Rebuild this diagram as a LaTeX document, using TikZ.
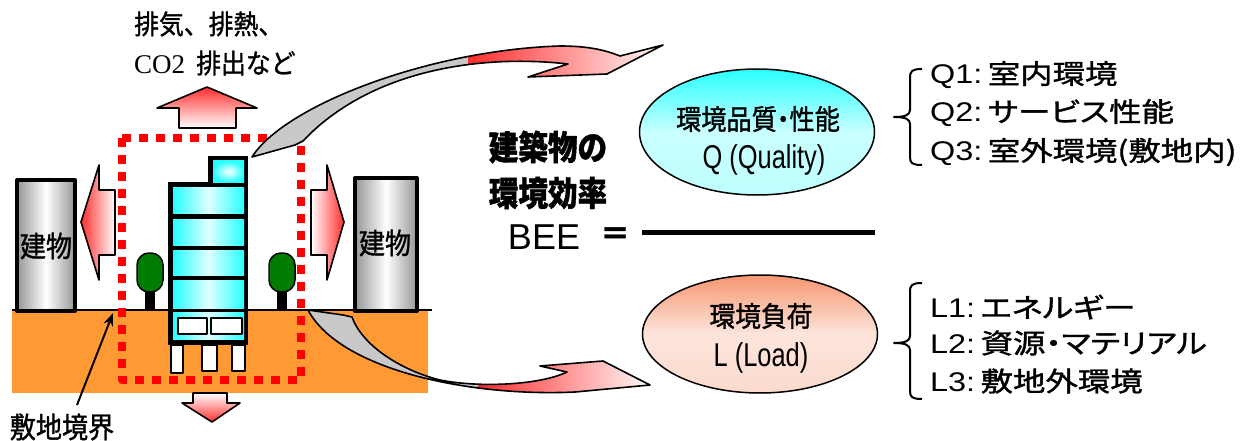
\documentclass[tikz,border=0pt]{standalone}
\usepackage{fontspec}
\setmainfont{Liberation Sans}
\newfontfamily\jp[RawFeature={embolden=1.2}]{Noto Sans CJK JP}
\newfontfamily\jpp[RawFeature={+palt;embolden=1.2}]{Noto Sans CJK JP}
\newfontfamily\serifrm{Liberation Serif}
\usetikzlibrary{arrows.meta,shapes.geometric}
\newcommand{\fsz}[1]{\fontsize{#1}{#1}\selectfont}
\newcommand{\hsc}[2]{\scalebox{#1}[1]{#2}}

\definecolor{soil}{RGB}{255,153,51}
\definecolor{arrred}{RGB}{255,45,45}
\definecolor{cyanfill}{RGB}{40,255,255}
\definecolor{treegreen}{RGB}{0,125,0}
\definecolor{wingray}{RGB}{200,200,200}
\definecolor{bldgray}{RGB}{150,150,150}
\definecolor{loadfill}{RGB}{246,150,112}
\definecolor{boundred}{RGB}{255,0,0}

\tikzset{
  outline/.style={draw=black, line width=1.6},
  redarrow/.style={outline},
  panel/.style={left color=cyanfill, right color=cyanfill, middle color=cyanfill!15},
  neighbour/.style={draw=black, line width=4, left color=bldgray, right color=bldgray, middle color=white},
  listtext/.style={anchor=west, inner sep=0pt},
  plain/.style={inner sep=0pt},
}

% curved flows from the building to Q and L
\def\flowup{(252,157) .. controls (285,105) and (430,50) .. (560,46)
  .. controls (588,46) and (605,50) .. (620,56) -- (663,45) -- (607,74)
  -- (528,77) -- (568,64) .. controls (480,54) and (370,70) .. (303,141)
  -- (295,145) -- cycle}
\def\flowdown{(308,310) -- (343,315) -- (352,317)
  .. controls (362,345) and (400,370) .. (440,380)
  .. controls (480,388) and (540,385) .. (567,372) -- (540,366) -- (603,361)
  -- (650,385) -- (575,392) .. controls (470,397) and (340,370) .. cycle}

\begin{document}
\begin{tikzpicture}[x=1pt,y=-1pt,line join=round]
\useasboundingbox (0,0) rectangle (1245,441);

% ground
\fill[soil] (12,310) rectangle (428,393);
\draw[line width=2] (12,310) -- (432,310);

% neighbouring buildings
\draw[neighbour] (17,180) rectangle (75,311);
\draw[neighbour] (355,178) rectangle (417,311);
\node[plain] (nbL) at (46,246) {\jp\fsz{29}\hsc{0.9}{建物}};
\node[plain] (nbR) at (385,243) {\jp\fsz{29}\hsc{0.9}{建物}};

% sideways emissions
\draw[redarrow, left color=arrred, right color=white]
  (81,222) -- (99,165) -- (99,190) -- (115,190) -- (115,255) -- (99,255) -- (99,280) -- cycle;
\draw[redarrow, left color=white, right color=arrred]
  (311,190) -- (327,190) -- (327,165) -- (344,222) -- (327,280) -- (327,255) -- (311,255) -- cycle;

% trees
\foreach \tx in {137,269}{
  \fill (\tx+8,288) rectangle (\tx+18,310);
  \draw[fill=treegreen, line width=1.5, rounded corners=12] (\tx,253) rectangle (\tx+26,292);
}

% the building
\fill (208,156) rectangle (248,184);
\fill (168,182) rectangle (248,345);
\shade[inner color=white, outer color=cyanfill] (213,161) rectangle (244,182);
\shade[panel] (173,187) rectangle (244,213);
\shade[panel] (173,219) rectangle (244,245);
\shade[panel] (173,250) rectangle (244,275);
\shade[panel] (173,280) rectangle (244,308);
\shade[panel] (173,312) rectangle (244,339);
\draw[fill=white, line width=1.5] (178,318) rectangle (207,334);
\draw[fill=white, line width=1.5] (211,318) rectangle (242,334);
\draw[fill=white, line width=1.5] (171,345) rectangle (183,373);
\draw[fill=white, line width=1.5] (202,345) rectangle (217,371);
\draw[fill=white, line width=1.5] (232,345) rectangle (245,371);

% site boundary
\draw[boundred, line width=8.5, dash pattern=on 9pt off 8pt] (122,138) rectangle (301,380);

% upward and downward emissions
\draw[redarrow, top color=arrred, bottom color=white]
  (207,87) -- (257,108) -- (236,108) -- (236,128) -- (179,128) -- (179,108) -- (157,108) -- cycle;
\draw[redarrow, top color=white, bottom color=arrred]
  (193,393) -- (227,393) -- (227,403) -- (240,403) -- (212,422) -- (182,403) -- (193,403) -- cycle;

% boundary label
\node[plain] (bnd) at (62,427) {\jp\fsz{29}\hsc{0.9}{敷地境界}};
\coordinate (bndtail) at (77,405);
\coordinate (bndtip) at (113,313);
\draw[line width=2, -{Stealth[length=13pt,width=10pt]}] (bndtail) -- (bndtip);

% emissions label
\node[plain, anchor=west] (emit1) at (134,24) {\jp\fsz{27}\hsc{0.92}{排気、排熱、}};
\node[plain, anchor=west] (emit2) at (134,63) {{\serifrm\fsz{27}CO2}\hspace{11pt}{\jp\fsz{27}\hsc{0.92}{排出など}}};

% curved flows
\fill[wingray] \flowup;
\begin{scope}
  \clip \flowup;
  \fill[left color=arrred, right color=white] (468,30) rectangle (668,90);
\end{scope}
\draw[outline] \flowup;

\fill[wingray] \flowdown;
\begin{scope}
  \clip \flowdown;
  \fill[left color=arrred, right color=white] (478,350) rectangle (655,400);
\end{scope}
\draw[outline] \flowdown;

% BEE formula
\node[plain] (bee1) at (548,147) {\jp\bfseries\fsz{34}\hsc{0.87}{建築物の}};
\node[plain] (bee2) at (548,193) {\jp\bfseries\fsz{34}\hsc{0.87}{環境効率}};
\node[plain] (bee) at (544,237) {\fsz{36}BEE};
\node[plain] (eq) at (615,236) {\jp\bfseries\fsz{30}＝};
\coordinate (barL) at (642,232);
\coordinate (barR) at (875,232);
\draw[line width=5] (barL) -- (barR);

% numerator and denominator
\node[ellipse, draw, line width=1.5, minimum width=235, minimum height=126,
      top color=cyanfill, bottom color=cyanfill!30, middle color=cyanfill!25] (qell) at (757,132) {};
\node[plain] (qt1) at (758,119) {\jpp\fsz{28}\hsc{0.9}{環境品質・性能}};
\node[plain] (qt2) at (764,160) {\fsz{33}\hsc{0.77}{Q (Quality)}};

\node[ellipse, draw, line width=1.5, minimum width=235, minimum height=118,
      top color=loadfill, bottom color=loadfill!35, middle color=loadfill!25] (lell) at (760,334) {};
\node[plain] (lt1) at (761,316) {\jp\fsz{28}\hsc{0.92}{環境負荷}};
\node[plain] (lt2) at (761,358) {\fsz{33}\hsc{0.77}{L (Load)}};

% braces
\draw[line width=2] (922,69) .. controls (912,69) and (910,71) .. (910,78) -- (910,110)
  .. controls (910,115) and (905,117) .. (894,117) .. controls (905,117) and (910,119) .. (910,124)
  -- (910,157) .. controls (910,163) and (912,165) .. (922,165);
\draw[line width=2] (922,283) .. controls (912,283) and (910,285) .. (910,292) -- (910,336)
  .. controls (910,341) and (905,343) .. (894,343) .. controls (905,343) and (910,345) .. (910,350)
  -- (910,391) .. controls (910,397) and (912,399) .. (922,399);

% breakdown lists
\node[listtext] (q1) at (930,75) {\fsz{27}\hsc{1.2}{Q1:\,\jpp 室内環境}};
\node[listtext] (q2) at (930,113) {\fsz{27}\hsc{1.2}{Q2:\,\jpp サービス性能}};
\node[listtext] (q3) at (930,152) {\fsz{27}\hsc{1.2}{Q3:\,\jpp 室外環境(敷地内)}};
\node[listtext] (l1) at (930,307) {\fsz{27}\hsc{1.2}{L1:\,\jpp エネルギー}};
\node[listtext] (l2) at (930,343) {\fsz{27}\hsc{1.2}{L2:\,\jpp 資源・マテリアル}};
\node[listtext] (l3) at (930,381) {\fsz{27}\hsc{1.2}{L3:\,\jpp 敷地外環境}};
\end{tikzpicture}
\end{document}
